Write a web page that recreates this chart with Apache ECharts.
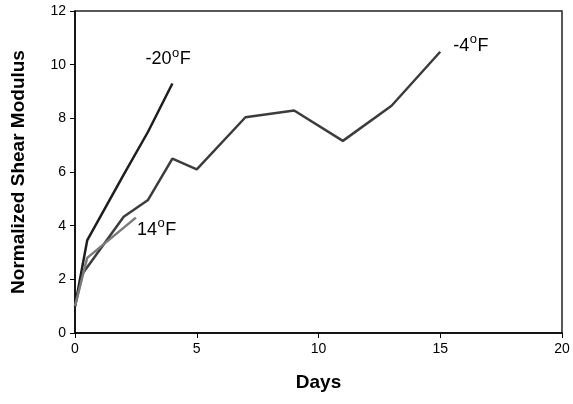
<!DOCTYPE html>
<html><head><meta charset="utf-8">
<script src="https://cdn.jsdelivr.net/npm/echarts@6/dist/echarts.min.js"></script>
<style>html,body{margin:0;padding:0;background:#fff}#c{width:573px;height:404px}</style>
</head><body><div id="c"></div>
<script>
var xTicks = [0, 5, 10, 15, 20];
var yTicks = [0, 2, 4, 6, 8, 10, 12];
var daysM20 = [0, 0.5, 2, 3, 4];
var valsM20 = [1, 3.45, 5.9, 7.5, 9.3];
var daysM4 = [0, 0.3, 2, 3, 4, 5, 7, 9, 11, 13, 15];
var valsM4 = [1, 2.2, 4.33, 4.96, 6.5, 6.1, 8.04, 8.29, 7.16, 8.47, 10.48];
var days14 = [0, 0.5, 2.5];
var vals14 = [1, 2.8, 4.3];
var seriesNames = ['-20', '-4', '14'];

function pairs(xs, ys){ return xs.map(function(x,i){ return [x, ys[i]]; }); }
var FONT = 'Liberation Sans, Arial, sans-serif';
var rich = {
  t: {fontSize: 18, lineHeight: 18, color: '#000', fontFamily: FONT, verticalAlign: 'bottom'},
  s: {fontSize: 13, lineHeight: 13, color: '#000', fontFamily: FONT, verticalAlign: 'bottom', padding: [0,0.5,9,0.5]}
};
function lab(n){ return function(){ return '{t|' + n + '}{s|o}{t|F}'; }; }
var chart = echarts.init(document.getElementById('c'), null, {renderer: 'canvas'});
var axisLine = {show: true, lineStyle: {color: '#000', width: 1.5}};
function mkSeries(name, xs, ys, color, z, offset){
  return {
    name: name, type: 'line', symbol: 'none', z: z,
    lineStyle: {color: color, width: 2.5},
    endLabel: {show: true, formatter: lab(name), rich: rich, distance: 5, offset: offset},
    data: pairs(xs, ys)
  };
}
chart.setOption({
  animation: false,
  grid: {left: 75, right: 11, top: 11, bottom: 71, show: true, borderColor: '#222', borderWidth: 1.5, backgroundColor: 'transparent'},
  xAxis: {
    type: 'value', min: 0, max: 20, interval: 5,
    name: 'Days', nameLocation: 'middle', nameGap: 40,
    nameTextStyle: {fontFamily: FONT, fontWeight: 'bold', fontSize: 19, color: '#000'},
    axisLine: axisLine,
    axisTick: {show: true, inside: false, length: 5, lineStyle: {color: '#000'}},
    axisLabel: {fontFamily: FONT, fontSize: 14, color: '#000', margin: 9},
    splitLine: {show: false}
  },
  yAxis: {
    type: 'value', min: 0, max: 12, interval: 2,
    name: 'Normalized Shear Modulus', nameLocation: 'middle', nameGap: 47,
    nameTextStyle: {fontFamily: FONT, fontWeight: 'bold', fontSize: 19, color: '#000'},
    axisLine: axisLine,
    axisTick: {show: true, inside: false, length: 5, lineStyle: {color: '#000'}},
    axisLabel: {fontFamily: FONT, fontSize: 14, color: '#000', margin: 9},
    splitLine: {show: false}
  },
  series: [
    mkSeries(seriesNames[0], daysM20, valsM20, '#1e1e1e', 3, [-32, -24]),
    mkSeries(seriesNames[1], daysM4, valsM4, '#3c3c3c', 2, [8, -6]),
    mkSeries(seriesNames[2], days14, vals14, '#7a7a7a', 4, [-4, 12])
  ]
});
</script></body></html>
